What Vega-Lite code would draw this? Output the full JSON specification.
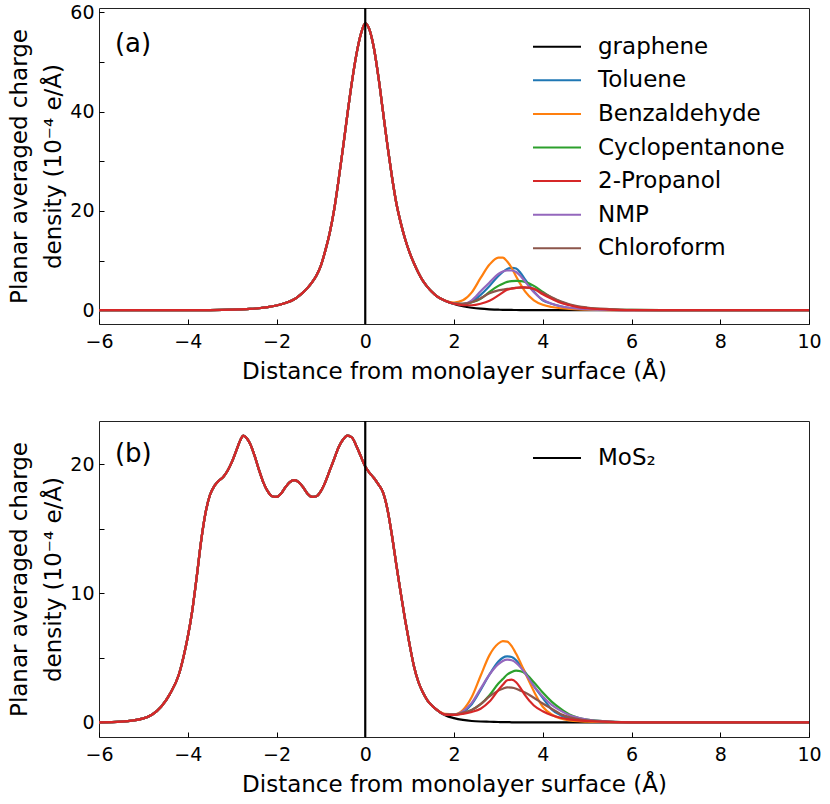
{
  "$schema": "https://vega.github.io/schema/vega-lite/v6.json",
  "background": "white",
  "padding": {"left": 8, "top": 2, "right": 5, "bottom": 5},
  "spacing": 35,
  "resolve": {"scale": {"color": "independent"}, "legend": {"color": "independent"}},
  "config": {
    "font": "DejaVu Sans",
    "view": {"stroke": "#222", "strokeWidth": 1},
    "axis": {
      "grid": false,
      "domain": false,
      "ticks": true,
      "tickSize": -5,
      "tickColor": "black",
      "tickWidth": 1,
      "labelPadding": 10,
      "labelFontSize": 19,
      "labelColor": "black",
      "labelFlush": false,
      "labelOverlap": false,
      "labelBound": false,
      "titleFontSize": 23,
      "titleFontWeight": "normal",
      "titleColor": "black",
      "titleLineHeight": 34,
      "titlePadding": 4
    },
    "axisX": {"labelPadding": 13, "titlePadding": 9},
    "legend": {
      "orient": "none",
      "title": null,
      "symbolType": "M-2,0H2",
      "symbolSize": 576,
      "symbolStrokeWidth": 2,
      "labelFontSize": 23,
      "labelColor": "black",
      "labelLimit": 400,
      "labelOffset": 28,
      "rowPadding": 8.6
    }
  },
  "vconcat": [
    {
      "width": 710,
      "height": 316,
      "data": {
        "values": [
          {"x": -6, "graphene": 0, "Toluene": 0, "Benzaldehyde": 0, "Cyclopentanone": 0, "2-Propanol": 0, "NMP": 0, "Chloroform": 0},
          {"x": -5, "graphene": 0, "Toluene": 0, "Benzaldehyde": 0, "Cyclopentanone": 0, "2-Propanol": 0, "NMP": 0, "Chloroform": 0},
          {"x": -4.5, "graphene": 0, "Toluene": 0, "Benzaldehyde": 0, "Cyclopentanone": 0, "2-Propanol": 0, "NMP": 0, "Chloroform": 0},
          {"x": -4, "graphene": 0.01, "Toluene": 0.01, "Benzaldehyde": 0.01, "Cyclopentanone": 0.01, "2-Propanol": 0.01, "NMP": 0.01, "Chloroform": 0.01},
          {"x": -3.5, "graphene": 0.03, "Toluene": 0.03, "Benzaldehyde": 0.03, "Cyclopentanone": 0.03, "2-Propanol": 0.03, "NMP": 0.03, "Chloroform": 0.03},
          {"x": -3, "graphene": 0.1, "Toluene": 0.1, "Benzaldehyde": 0.1, "Cyclopentanone": 0.1, "2-Propanol": 0.1, "NMP": 0.1, "Chloroform": 0.1},
          {"x": -2.8, "graphene": 0.16, "Toluene": 0.16, "Benzaldehyde": 0.16, "Cyclopentanone": 0.16, "2-Propanol": 0.16, "NMP": 0.16, "Chloroform": 0.16},
          {"x": -2.6, "graphene": 0.25, "Toluene": 0.25, "Benzaldehyde": 0.25, "Cyclopentanone": 0.25, "2-Propanol": 0.25, "NMP": 0.25, "Chloroform": 0.25},
          {"x": -2.4, "graphene": 0.4, "Toluene": 0.4, "Benzaldehyde": 0.4, "Cyclopentanone": 0.4, "2-Propanol": 0.4, "NMP": 0.4, "Chloroform": 0.4},
          {"x": -2.2, "graphene": 0.62, "Toluene": 0.62, "Benzaldehyde": 0.62, "Cyclopentanone": 0.62, "2-Propanol": 0.62, "NMP": 0.62, "Chloroform": 0.62},
          {"x": -2, "graphene": 0.95, "Toluene": 0.95, "Benzaldehyde": 0.95, "Cyclopentanone": 0.95, "2-Propanol": 0.95, "NMP": 0.95, "Chloroform": 0.95},
          {"x": -1.8, "graphene": 1.45, "Toluene": 1.45, "Benzaldehyde": 1.45, "Cyclopentanone": 1.45, "2-Propanol": 1.45, "NMP": 1.45, "Chloroform": 1.45},
          {"x": -1.6, "graphene": 2.2, "Toluene": 2.2, "Benzaldehyde": 2.2, "Cyclopentanone": 2.2, "2-Propanol": 2.2, "NMP": 2.2, "Chloroform": 2.2},
          {"x": -1.5, "graphene": 2.85, "Toluene": 2.85, "Benzaldehyde": 2.85, "Cyclopentanone": 2.85, "2-Propanol": 2.85, "NMP": 2.85, "Chloroform": 2.85},
          {"x": -1.4, "graphene": 3.6, "Toluene": 3.6, "Benzaldehyde": 3.6, "Cyclopentanone": 3.6, "2-Propanol": 3.6, "NMP": 3.6, "Chloroform": 3.6},
          {"x": -1.3, "graphene": 4.5, "Toluene": 4.5, "Benzaldehyde": 4.5, "Cyclopentanone": 4.5, "2-Propanol": 4.5, "NMP": 4.5, "Chloroform": 4.5},
          {"x": -1.2, "graphene": 5.6, "Toluene": 5.6, "Benzaldehyde": 5.6, "Cyclopentanone": 5.6, "2-Propanol": 5.6, "NMP": 5.6, "Chloroform": 5.6},
          {"x": -1.1, "graphene": 7.0, "Toluene": 7.0, "Benzaldehyde": 7.0, "Cyclopentanone": 7.0, "2-Propanol": 7.0, "NMP": 7.0, "Chloroform": 7.0},
          {"x": -1.0, "graphene": 9.0, "Toluene": 9.0, "Benzaldehyde": 9.0, "Cyclopentanone": 9.0, "2-Propanol": 9.0, "NMP": 9.0, "Chloroform": 9.0},
          {"x": -0.9, "graphene": 12.0, "Toluene": 12.0, "Benzaldehyde": 12.0, "Cyclopentanone": 12.0, "2-Propanol": 12.0, "NMP": 12.0, "Chloroform": 12.0},
          {"x": -0.8, "graphene": 15.6, "Toluene": 15.6, "Benzaldehyde": 15.6, "Cyclopentanone": 15.6, "2-Propanol": 15.6, "NMP": 15.6, "Chloroform": 15.6},
          {"x": -0.7, "graphene": 20.3, "Toluene": 20.3, "Benzaldehyde": 20.3, "Cyclopentanone": 20.3, "2-Propanol": 20.3, "NMP": 20.3, "Chloroform": 20.3},
          {"x": -0.6, "graphene": 26.3, "Toluene": 26.3, "Benzaldehyde": 26.3, "Cyclopentanone": 26.3, "2-Propanol": 26.3, "NMP": 26.3, "Chloroform": 26.3},
          {"x": -0.5, "graphene": 32.8, "Toluene": 32.8, "Benzaldehyde": 32.8, "Cyclopentanone": 32.8, "2-Propanol": 32.8, "NMP": 32.8, "Chloroform": 32.8},
          {"x": -0.4, "graphene": 39.6, "Toluene": 39.6, "Benzaldehyde": 39.6, "Cyclopentanone": 39.6, "2-Propanol": 39.6, "NMP": 39.6, "Chloroform": 39.6},
          {"x": -0.3, "graphene": 46.0, "Toluene": 46.0, "Benzaldehyde": 46.0, "Cyclopentanone": 46.0, "2-Propanol": 46.0, "NMP": 46.0, "Chloroform": 46.0},
          {"x": -0.2, "graphene": 51.5, "Toluene": 51.5, "Benzaldehyde": 51.5, "Cyclopentanone": 51.5, "2-Propanol": 51.5, "NMP": 51.5, "Chloroform": 51.5},
          {"x": -0.1, "graphene": 55.6, "Toluene": 55.6, "Benzaldehyde": 55.6, "Cyclopentanone": 55.6, "2-Propanol": 55.6, "NMP": 55.6, "Chloroform": 55.6},
          {"x": 0, "graphene": 57.8, "Toluene": 57.8, "Benzaldehyde": 57.8, "Cyclopentanone": 57.8, "2-Propanol": 57.8, "NMP": 57.8, "Chloroform": 57.8},
          {"x": 0.1, "graphene": 56.4, "Toluene": 56.4, "Benzaldehyde": 56.4, "Cyclopentanone": 56.4, "2-Propanol": 56.4, "NMP": 56.4, "Chloroform": 56.4},
          {"x": 0.2, "graphene": 52.6, "Toluene": 52.6, "Benzaldehyde": 52.6, "Cyclopentanone": 52.6, "2-Propanol": 52.6, "NMP": 52.6, "Chloroform": 52.6},
          {"x": 0.3, "graphene": 46.8, "Toluene": 46.8, "Benzaldehyde": 46.8, "Cyclopentanone": 46.8, "2-Propanol": 46.8, "NMP": 46.8, "Chloroform": 46.8},
          {"x": 0.4, "graphene": 40.0, "Toluene": 40.0, "Benzaldehyde": 40.0, "Cyclopentanone": 40.0, "2-Propanol": 40.0, "NMP": 40.0, "Chloroform": 40.0},
          {"x": 0.5, "graphene": 33.2, "Toluene": 33.2, "Benzaldehyde": 33.2, "Cyclopentanone": 33.2, "2-Propanol": 33.2, "NMP": 33.2, "Chloroform": 33.2},
          {"x": 0.6, "graphene": 27.0, "Toluene": 27.0, "Benzaldehyde": 27.0, "Cyclopentanone": 27.0, "2-Propanol": 27.0, "NMP": 27.0, "Chloroform": 27.0},
          {"x": 0.7, "graphene": 21.6, "Toluene": 21.6, "Benzaldehyde": 21.6, "Cyclopentanone": 21.6, "2-Propanol": 21.6, "NMP": 21.6, "Chloroform": 21.6},
          {"x": 0.8, "graphene": 17.6, "Toluene": 17.6, "Benzaldehyde": 17.6, "Cyclopentanone": 17.6, "2-Propanol": 17.6, "NMP": 17.6, "Chloroform": 17.6},
          {"x": 0.9, "graphene": 14.3, "Toluene": 14.3, "Benzaldehyde": 14.3, "Cyclopentanone": 14.3, "2-Propanol": 14.3, "NMP": 14.3, "Chloroform": 14.3},
          {"x": 1.0, "graphene": 11.6, "Toluene": 11.6, "Benzaldehyde": 11.6, "Cyclopentanone": 11.6, "2-Propanol": 11.6, "NMP": 11.6, "Chloroform": 11.6},
          {"x": 1.1, "graphene": 9.4, "Toluene": 9.4, "Benzaldehyde": 9.4, "Cyclopentanone": 9.4, "2-Propanol": 9.4, "NMP": 9.4, "Chloroform": 9.4},
          {"x": 1.2, "graphene": 7.5, "Toluene": 7.5, "Benzaldehyde": 7.5, "Cyclopentanone": 7.5, "2-Propanol": 7.5, "NMP": 7.5, "Chloroform": 7.5},
          {"x": 1.3, "graphene": 5.9, "Toluene": 5.9, "Benzaldehyde": 5.9, "Cyclopentanone": 5.9, "2-Propanol": 5.9, "NMP": 5.9, "Chloroform": 5.9},
          {"x": 1.4, "graphene": 4.7, "Toluene": 4.7, "Benzaldehyde": 4.7, "Cyclopentanone": 4.7, "2-Propanol": 4.7, "NMP": 4.7, "Chloroform": 4.7},
          {"x": 1.5, "graphene": 3.7, "Toluene": 3.7, "Benzaldehyde": 3.7, "Cyclopentanone": 3.7, "2-Propanol": 3.7, "NMP": 3.7, "Chloroform": 3.7},
          {"x": 1.6, "graphene": 2.9, "Toluene": 2.9, "Benzaldehyde": 2.9, "Cyclopentanone": 2.9, "2-Propanol": 2.9, "NMP": 2.9, "Chloroform": 2.9},
          {"x": 1.8, "graphene": 1.9, "Toluene": 1.9, "Benzaldehyde": 1.95, "Cyclopentanone": 1.9, "2-Propanol": 1.9, "NMP": 1.9, "Chloroform": 1.9},
          {"x": 2.0, "graphene": 1.25, "Toluene": 1.3, "Benzaldehyde": 1.55, "Cyclopentanone": 1.35, "2-Propanol": 1.3, "NMP": 1.35, "Chloroform": 1.35},
          {"x": 2.2, "graphene": 0.8, "Toluene": 1.2, "Benzaldehyde": 2.0, "Cyclopentanone": 1.3, "2-Propanol": 1.0, "NMP": 1.3, "Chloroform": 1.3},
          {"x": 2.4, "graphene": 0.5, "Toluene": 1.7, "Benzaldehyde": 3.6, "Cyclopentanone": 1.6, "2-Propanol": 1.0, "NMP": 2.0, "Chloroform": 1.6},
          {"x": 2.6, "graphene": 0.3, "Toluene": 3.1, "Benzaldehyde": 6.5, "Cyclopentanone": 2.3, "2-Propanol": 1.3, "NMP": 3.8, "Chloroform": 2.4},
          {"x": 2.8, "graphene": 0.18, "Toluene": 4.9, "Benzaldehyde": 9.2, "Cyclopentanone": 3.7, "2-Propanol": 1.9, "NMP": 5.6, "Chloroform": 3.4},
          {"x": 3.0, "graphene": 0.1, "Toluene": 6.9, "Benzaldehyde": 10.6, "Cyclopentanone": 4.9, "2-Propanol": 3.0, "NMP": 7.3, "Chloroform": 4.0},
          {"x": 3.1, "graphene": 0.08, "Toluene": 7.7, "Benzaldehyde": 10.6, "Cyclopentanone": 5.35, "2-Propanol": 3.6, "NMP": 7.8, "Chloroform": 4.15},
          {"x": 3.2, "graphene": 0.06, "Toluene": 8.3, "Benzaldehyde": 9.8, "Cyclopentanone": 5.7, "2-Propanol": 4.1, "NMP": 8.0, "Chloroform": 4.3},
          {"x": 3.3, "graphene": 0.05, "Toluene": 8.55, "Benzaldehyde": 8.5, "Cyclopentanone": 5.85, "2-Propanol": 4.35, "NMP": 8.0, "Chloroform": 4.4},
          {"x": 3.4, "graphene": 0.04, "Toluene": 8.4, "Benzaldehyde": 6.8, "Cyclopentanone": 5.9, "2-Propanol": 4.5, "NMP": 7.7, "Chloroform": 4.5},
          {"x": 3.5, "graphene": 0.03, "Toluene": 7.5, "Benzaldehyde": 5.2, "Cyclopentanone": 5.85, "2-Propanol": 4.6, "NMP": 6.9, "Chloroform": 4.55},
          {"x": 3.6, "graphene": 0.02, "Toluene": 6.2, "Benzaldehyde": 3.8, "Cyclopentanone": 5.7, "2-Propanol": 4.6, "NMP": 5.8, "Chloroform": 4.55},
          {"x": 3.8, "graphene": 0.01, "Toluene": 3.8, "Benzaldehyde": 2.0, "Cyclopentanone": 4.9, "2-Propanol": 4.3, "NMP": 3.6, "Chloroform": 4.3},
          {"x": 4.0, "graphene": 0, "Toluene": 2.0, "Benzaldehyde": 1.1, "Cyclopentanone": 3.7, "2-Propanol": 3.2, "NMP": 2.1, "Chloroform": 3.5},
          {"x": 4.2, "graphene": 0, "Toluene": 1.3, "Benzaldehyde": 0.65, "Cyclopentanone": 2.5, "2-Propanol": 2.3, "NMP": 1.3, "Chloroform": 2.6},
          {"x": 4.4, "graphene": 0, "Toluene": 0.8, "Benzaldehyde": 0.4, "Cyclopentanone": 1.7, "2-Propanol": 1.5, "NMP": 0.8, "Chloroform": 1.8},
          {"x": 4.6, "graphene": 0, "Toluene": 0.45, "Benzaldehyde": 0.25, "Cyclopentanone": 1.1, "2-Propanol": 1.0, "NMP": 0.5, "Chloroform": 1.2},
          {"x": 4.8, "graphene": 0, "Toluene": 0.28, "Benzaldehyde": 0.15, "Cyclopentanone": 0.7, "2-Propanol": 0.6, "NMP": 0.3, "Chloroform": 0.8},
          {"x": 5.0, "graphene": 0, "Toluene": 0.18, "Benzaldehyde": 0.1, "Cyclopentanone": 0.45, "2-Propanol": 0.4, "NMP": 0.2, "Chloroform": 0.55},
          {"x": 5.5, "graphene": 0, "Toluene": 0.05, "Benzaldehyde": 0.03, "Cyclopentanone": 0.17, "2-Propanol": 0.12, "NMP": 0.05, "Chloroform": 0.22},
          {"x": 6.0, "graphene": 0, "Toluene": 0, "Benzaldehyde": 0, "Cyclopentanone": 0.05, "2-Propanol": 0.03, "NMP": 0, "Chloroform": 0.05},
          {"x": 7, "graphene": 0, "Toluene": 0, "Benzaldehyde": 0, "Cyclopentanone": 0, "2-Propanol": 0, "NMP": 0, "Chloroform": 0},
          {"x": 8, "graphene": 0, "Toluene": 0, "Benzaldehyde": 0, "Cyclopentanone": 0, "2-Propanol": 0, "NMP": 0, "Chloroform": 0},
          {"x": 10, "graphene": 0, "Toluene": 0, "Benzaldehyde": 0, "Cyclopentanone": 0, "2-Propanol": 0, "NMP": 0, "Chloroform": 0}
        ]
      },
      "layer": [
        {
          "transform": [
            {"fold": ["graphene", "Toluene", "Benzaldehyde", "Cyclopentanone", "NMP", "Chloroform", "2-Propanol"], "as": ["series", "density"]}
          ],
          "mark": {"type": "line", "interpolate": "monotone", "strokeWidth": 2.2},
          "encoding": {
            "x": {
              "field": "x",
              "type": "quantitative",
              "scale": {"domain": [-6, 10], "nice": false, "zero": false},
              "axis": {"values": [-6, -4, -2, 0, 2, 4, 6, 8, 10], "title": "Distance from monolayer surface (Å)"}
            },
            "y": {
              "field": "density",
              "type": "quantitative",
              "scale": {"domain": [-2.78, 60.9], "nice": false, "zero": false},
              "axis": {
                "values": [0, 10, 20, 30, 40, 50, 60],
                "labelExpr": "datum.value % 20 === 0 ? datum.label : ''",
                "title": ["Planar averaged charge", "density (10⁻⁴ e/Å)"]
              }
            },
            "color": {
              "field": "series",
              "type": "nominal",
              "scale": {
                "domain": ["graphene", "Toluene", "Benzaldehyde", "Cyclopentanone", "2-Propanol", "NMP", "Chloroform"],
                "range": ["#000000", "#1f77b4", "#ff7f0e", "#2ca02c", "#d62728", "#9467bd", "#8c564b"]
              },
              "legend": {"legendX": 445, "legendY": 25.7}
            }
          }
        },
        {
          "data": {"values": [{"x": 0}]},
          "mark": {"type": "rule", "color": "black", "strokeWidth": 2.2},
          "encoding": {"x": {"field": "x", "type": "quantitative"}}
        },
        {
          "data": {"values": [{"label": "(a)"}]},
          "mark": {"type": "text", "align": "left", "baseline": "middle", "fontSize": 26, "color": "black"},
          "encoding": {
            "x": {"datum": -5.64},
            "y": {"datum": 53.6},
            "text": {"field": "label"}
          }
        }
      ]
    },
    {
      "width": 710,
      "height": 316,
      "data": {
        "values": [
          {"x": -6, "MoS₂": 0, "Toluene": 0, "Benzaldehyde": 0, "Cyclopentanone": 0, "2-Propanol": 0, "NMP": 0, "Chloroform": 0},
          {"x": -5.5, "MoS₂": 0.05, "Toluene": 0.05, "Benzaldehyde": 0.05, "Cyclopentanone": 0.05, "2-Propanol": 0.05, "NMP": 0.05, "Chloroform": 0.05},
          {"x": -5.0, "MoS₂": 0.3, "Toluene": 0.3, "Benzaldehyde": 0.3, "Cyclopentanone": 0.3, "2-Propanol": 0.3, "NMP": 0.3, "Chloroform": 0.3},
          {"x": -4.8, "MoS₂": 0.6, "Toluene": 0.6, "Benzaldehyde": 0.6, "Cyclopentanone": 0.6, "2-Propanol": 0.6, "NMP": 0.6, "Chloroform": 0.6},
          {"x": -4.6, "MoS₂": 1.2, "Toluene": 1.2, "Benzaldehyde": 1.2, "Cyclopentanone": 1.2, "2-Propanol": 1.2, "NMP": 1.2, "Chloroform": 1.2},
          {"x": -4.4, "MoS₂": 2.2, "Toluene": 2.2, "Benzaldehyde": 2.2, "Cyclopentanone": 2.2, "2-Propanol": 2.2, "NMP": 2.2, "Chloroform": 2.2},
          {"x": -4.2, "MoS₂": 3.7, "Toluene": 3.7, "Benzaldehyde": 3.7, "Cyclopentanone": 3.7, "2-Propanol": 3.7, "NMP": 3.7, "Chloroform": 3.7},
          {"x": -4.1, "MoS₂": 5.0, "Toluene": 5.0, "Benzaldehyde": 5.0, "Cyclopentanone": 5.0, "2-Propanol": 5.0, "NMP": 5.0, "Chloroform": 5.0},
          {"x": -4.0, "MoS₂": 6.6, "Toluene": 6.6, "Benzaldehyde": 6.6, "Cyclopentanone": 6.6, "2-Propanol": 6.6, "NMP": 6.6, "Chloroform": 6.6},
          {"x": -3.9, "MoS₂": 8.6, "Toluene": 8.6, "Benzaldehyde": 8.6, "Cyclopentanone": 8.6, "2-Propanol": 8.6, "NMP": 8.6, "Chloroform": 8.6},
          {"x": -3.8, "MoS₂": 11.2, "Toluene": 11.2, "Benzaldehyde": 11.2, "Cyclopentanone": 11.2, "2-Propanol": 11.2, "NMP": 11.2, "Chloroform": 11.2},
          {"x": -3.7, "MoS₂": 14.0, "Toluene": 14.0, "Benzaldehyde": 14.0, "Cyclopentanone": 14.0, "2-Propanol": 14.0, "NMP": 14.0, "Chloroform": 14.0},
          {"x": -3.6, "MoS₂": 16.2, "Toluene": 16.2, "Benzaldehyde": 16.2, "Cyclopentanone": 16.2, "2-Propanol": 16.2, "NMP": 16.2, "Chloroform": 16.2},
          {"x": -3.5, "MoS₂": 17.6, "Toluene": 17.6, "Benzaldehyde": 17.6, "Cyclopentanone": 17.6, "2-Propanol": 17.6, "NMP": 17.6, "Chloroform": 17.6},
          {"x": -3.4, "MoS₂": 18.3, "Toluene": 18.3, "Benzaldehyde": 18.3, "Cyclopentanone": 18.3, "2-Propanol": 18.3, "NMP": 18.3, "Chloroform": 18.3},
          {"x": -3.3, "MoS₂": 18.7, "Toluene": 18.7, "Benzaldehyde": 18.7, "Cyclopentanone": 18.7, "2-Propanol": 18.7, "NMP": 18.7, "Chloroform": 18.7},
          {"x": -3.2, "MoS₂": 19.0, "Toluene": 19.0, "Benzaldehyde": 19.0, "Cyclopentanone": 19.0, "2-Propanol": 19.0, "NMP": 19.0, "Chloroform": 19.0},
          {"x": -3.1, "MoS₂": 19.5, "Toluene": 19.5, "Benzaldehyde": 19.5, "Cyclopentanone": 19.5, "2-Propanol": 19.5, "NMP": 19.5, "Chloroform": 19.5},
          {"x": -3.0, "MoS₂": 20.2, "Toluene": 20.2, "Benzaldehyde": 20.2, "Cyclopentanone": 20.2, "2-Propanol": 20.2, "NMP": 20.2, "Chloroform": 20.2},
          {"x": -2.9, "MoS₂": 21.1, "Toluene": 21.1, "Benzaldehyde": 21.1, "Cyclopentanone": 21.1, "2-Propanol": 21.1, "NMP": 21.1, "Chloroform": 21.1},
          {"x": -2.8, "MoS₂": 21.95, "Toluene": 21.95, "Benzaldehyde": 21.95, "Cyclopentanone": 21.95, "2-Propanol": 21.95, "NMP": 21.95, "Chloroform": 21.95},
          {"x": -2.75, "MoS₂": 22.2, "Toluene": 22.2, "Benzaldehyde": 22.2, "Cyclopentanone": 22.2, "2-Propanol": 22.2, "NMP": 22.2, "Chloroform": 22.2},
          {"x": -2.7, "MoS₂": 22.1, "Toluene": 22.1, "Benzaldehyde": 22.1, "Cyclopentanone": 22.1, "2-Propanol": 22.1, "NMP": 22.1, "Chloroform": 22.1},
          {"x": -2.6, "MoS₂": 21.6, "Toluene": 21.6, "Benzaldehyde": 21.6, "Cyclopentanone": 21.6, "2-Propanol": 21.6, "NMP": 21.6, "Chloroform": 21.6},
          {"x": -2.5, "MoS₂": 20.7, "Toluene": 20.7, "Benzaldehyde": 20.7, "Cyclopentanone": 20.7, "2-Propanol": 20.7, "NMP": 20.7, "Chloroform": 20.7},
          {"x": -2.4, "MoS₂": 19.6, "Toluene": 19.6, "Benzaldehyde": 19.6, "Cyclopentanone": 19.6, "2-Propanol": 19.6, "NMP": 19.6, "Chloroform": 19.6},
          {"x": -2.3, "MoS₂": 18.6, "Toluene": 18.6, "Benzaldehyde": 18.6, "Cyclopentanone": 18.6, "2-Propanol": 18.6, "NMP": 18.6, "Chloroform": 18.6},
          {"x": -2.2, "MoS₂": 17.9, "Toluene": 17.9, "Benzaldehyde": 17.9, "Cyclopentanone": 17.9, "2-Propanol": 17.9, "NMP": 17.9, "Chloroform": 17.9},
          {"x": -2.1, "MoS₂": 17.5, "Toluene": 17.5, "Benzaldehyde": 17.5, "Cyclopentanone": 17.5, "2-Propanol": 17.5, "NMP": 17.5, "Chloroform": 17.5},
          {"x": -2.0, "MoS₂": 17.45, "Toluene": 17.45, "Benzaldehyde": 17.45, "Cyclopentanone": 17.45, "2-Propanol": 17.45, "NMP": 17.45, "Chloroform": 17.45},
          {"x": -1.9, "MoS₂": 17.7, "Toluene": 17.7, "Benzaldehyde": 17.7, "Cyclopentanone": 17.7, "2-Propanol": 17.7, "NMP": 17.7, "Chloroform": 17.7},
          {"x": -1.8, "MoS₂": 18.2, "Toluene": 18.2, "Benzaldehyde": 18.2, "Cyclopentanone": 18.2, "2-Propanol": 18.2, "NMP": 18.2, "Chloroform": 18.2},
          {"x": -1.7, "MoS₂": 18.6, "Toluene": 18.6, "Benzaldehyde": 18.6, "Cyclopentanone": 18.6, "2-Propanol": 18.6, "NMP": 18.6, "Chloroform": 18.6},
          {"x": -1.6, "MoS₂": 18.75, "Toluene": 18.75, "Benzaldehyde": 18.75, "Cyclopentanone": 18.75, "2-Propanol": 18.75, "NMP": 18.75, "Chloroform": 18.75},
          {"x": -1.5, "MoS₂": 18.6, "Toluene": 18.6, "Benzaldehyde": 18.6, "Cyclopentanone": 18.6, "2-Propanol": 18.6, "NMP": 18.6, "Chloroform": 18.6},
          {"x": -1.4, "MoS₂": 18.2, "Toluene": 18.2, "Benzaldehyde": 18.2, "Cyclopentanone": 18.2, "2-Propanol": 18.2, "NMP": 18.2, "Chloroform": 18.2},
          {"x": -1.3, "MoS₂": 17.7, "Toluene": 17.7, "Benzaldehyde": 17.7, "Cyclopentanone": 17.7, "2-Propanol": 17.7, "NMP": 17.7, "Chloroform": 17.7},
          {"x": -1.2, "MoS₂": 17.45, "Toluene": 17.45, "Benzaldehyde": 17.45, "Cyclopentanone": 17.45, "2-Propanol": 17.45, "NMP": 17.45, "Chloroform": 17.45},
          {"x": -1.1, "MoS₂": 17.5, "Toluene": 17.5, "Benzaldehyde": 17.5, "Cyclopentanone": 17.5, "2-Propanol": 17.5, "NMP": 17.5, "Chloroform": 17.5},
          {"x": -1.0, "MoS₂": 17.9, "Toluene": 17.9, "Benzaldehyde": 17.9, "Cyclopentanone": 17.9, "2-Propanol": 17.9, "NMP": 17.9, "Chloroform": 17.9},
          {"x": -0.9, "MoS₂": 18.6, "Toluene": 18.6, "Benzaldehyde": 18.6, "Cyclopentanone": 18.6, "2-Propanol": 18.6, "NMP": 18.6, "Chloroform": 18.6},
          {"x": -0.8, "MoS₂": 19.5, "Toluene": 19.5, "Benzaldehyde": 19.5, "Cyclopentanone": 19.5, "2-Propanol": 19.5, "NMP": 19.5, "Chloroform": 19.5},
          {"x": -0.7, "MoS₂": 20.4, "Toluene": 20.4, "Benzaldehyde": 20.4, "Cyclopentanone": 20.4, "2-Propanol": 20.4, "NMP": 20.4, "Chloroform": 20.4},
          {"x": -0.6, "MoS₂": 21.3, "Toluene": 21.3, "Benzaldehyde": 21.3, "Cyclopentanone": 21.3, "2-Propanol": 21.3, "NMP": 21.3, "Chloroform": 21.3},
          {"x": -0.5, "MoS₂": 21.9, "Toluene": 21.9, "Benzaldehyde": 21.9, "Cyclopentanone": 21.9, "2-Propanol": 21.9, "NMP": 21.9, "Chloroform": 21.9},
          {"x": -0.4, "MoS₂": 22.2, "Toluene": 22.2, "Benzaldehyde": 22.2, "Cyclopentanone": 22.2, "2-Propanol": 22.2, "NMP": 22.2, "Chloroform": 22.2},
          {"x": -0.3, "MoS₂": 22.05, "Toluene": 22.05, "Benzaldehyde": 22.05, "Cyclopentanone": 22.05, "2-Propanol": 22.05, "NMP": 22.05, "Chloroform": 22.05},
          {"x": -0.2, "MoS₂": 21.4, "Toluene": 21.4, "Benzaldehyde": 21.4, "Cyclopentanone": 21.4, "2-Propanol": 21.4, "NMP": 21.4, "Chloroform": 21.4},
          {"x": -0.1, "MoS₂": 20.6, "Toluene": 20.6, "Benzaldehyde": 20.6, "Cyclopentanone": 20.6, "2-Propanol": 20.6, "NMP": 20.6, "Chloroform": 20.6},
          {"x": 0, "MoS₂": 19.8, "Toluene": 19.8, "Benzaldehyde": 19.8, "Cyclopentanone": 19.8, "2-Propanol": 19.8, "NMP": 19.8, "Chloroform": 19.8},
          {"x": 0.1, "MoS₂": 19.3, "Toluene": 19.3, "Benzaldehyde": 19.3, "Cyclopentanone": 19.3, "2-Propanol": 19.3, "NMP": 19.3, "Chloroform": 19.3},
          {"x": 0.2, "MoS₂": 18.9, "Toluene": 18.9, "Benzaldehyde": 18.9, "Cyclopentanone": 18.9, "2-Propanol": 18.9, "NMP": 18.9, "Chloroform": 18.9},
          {"x": 0.3, "MoS₂": 18.4, "Toluene": 18.4, "Benzaldehyde": 18.4, "Cyclopentanone": 18.4, "2-Propanol": 18.4, "NMP": 18.4, "Chloroform": 18.4},
          {"x": 0.4, "MoS₂": 17.8, "Toluene": 17.8, "Benzaldehyde": 17.8, "Cyclopentanone": 17.8, "2-Propanol": 17.8, "NMP": 17.8, "Chloroform": 17.8},
          {"x": 0.5, "MoS₂": 16.5, "Toluene": 16.5, "Benzaldehyde": 16.5, "Cyclopentanone": 16.5, "2-Propanol": 16.5, "NMP": 16.5, "Chloroform": 16.5},
          {"x": 0.6, "MoS₂": 14.5, "Toluene": 14.5, "Benzaldehyde": 14.5, "Cyclopentanone": 14.5, "2-Propanol": 14.5, "NMP": 14.5, "Chloroform": 14.5},
          {"x": 0.7, "MoS₂": 12.2, "Toluene": 12.2, "Benzaldehyde": 12.2, "Cyclopentanone": 12.2, "2-Propanol": 12.2, "NMP": 12.2, "Chloroform": 12.2},
          {"x": 0.8, "MoS₂": 10.0, "Toluene": 10.0, "Benzaldehyde": 10.0, "Cyclopentanone": 10.0, "2-Propanol": 10.0, "NMP": 10.0, "Chloroform": 10.0},
          {"x": 0.9, "MoS₂": 7.9, "Toluene": 7.9, "Benzaldehyde": 7.9, "Cyclopentanone": 7.9, "2-Propanol": 7.9, "NMP": 7.9, "Chloroform": 7.9},
          {"x": 1.0, "MoS₂": 6.0, "Toluene": 6.0, "Benzaldehyde": 6.0, "Cyclopentanone": 6.0, "2-Propanol": 6.0, "NMP": 6.0, "Chloroform": 6.0},
          {"x": 1.1, "MoS₂": 4.3, "Toluene": 4.3, "Benzaldehyde": 4.3, "Cyclopentanone": 4.3, "2-Propanol": 4.3, "NMP": 4.3, "Chloroform": 4.3},
          {"x": 1.2, "MoS₂": 3.1, "Toluene": 3.1, "Benzaldehyde": 3.1, "Cyclopentanone": 3.1, "2-Propanol": 3.1, "NMP": 3.1, "Chloroform": 3.1},
          {"x": 1.3, "MoS₂": 2.3, "Toluene": 2.3, "Benzaldehyde": 2.3, "Cyclopentanone": 2.3, "2-Propanol": 2.3, "NMP": 2.3, "Chloroform": 2.3},
          {"x": 1.4, "MoS₂": 1.7, "Toluene": 1.7, "Benzaldehyde": 1.7, "Cyclopentanone": 1.7, "2-Propanol": 1.7, "NMP": 1.7, "Chloroform": 1.7},
          {"x": 1.5, "MoS₂": 1.3, "Toluene": 1.3, "Benzaldehyde": 1.3, "Cyclopentanone": 1.3, "2-Propanol": 1.3, "NMP": 1.3, "Chloroform": 1.3},
          {"x": 1.6, "MoS₂": 1.0, "Toluene": 1.0, "Benzaldehyde": 1.0, "Cyclopentanone": 1.0, "2-Propanol": 1.0, "NMP": 1.0, "Chloroform": 1.0},
          {"x": 1.8, "MoS₂": 0.55, "Toluene": 0.6, "Benzaldehyde": 0.65, "Cyclopentanone": 0.6, "2-Propanol": 0.6, "NMP": 0.6, "Chloroform": 0.6},
          {"x": 2.0, "MoS₂": 0.32, "Toluene": 0.6, "Benzaldehyde": 0.62, "Cyclopentanone": 0.58, "2-Propanol": 0.57, "NMP": 0.6, "Chloroform": 0.6},
          {"x": 2.2, "MoS₂": 0.18, "Toluene": 0.8, "Benzaldehyde": 0.95, "Cyclopentanone": 0.7, "2-Propanol": 0.65, "NMP": 0.85, "Chloroform": 0.75},
          {"x": 2.4, "MoS₂": 0.1, "Toluene": 1.4, "Benzaldehyde": 1.95, "Cyclopentanone": 0.95, "2-Propanol": 0.8, "NMP": 1.5, "Chloroform": 0.95},
          {"x": 2.6, "MoS₂": 0.06, "Toluene": 2.5, "Benzaldehyde": 3.6, "Cyclopentanone": 1.4, "2-Propanol": 1.05, "NMP": 2.6, "Chloroform": 1.4},
          {"x": 2.8, "MoS₂": 0.04, "Toluene": 3.7, "Benzaldehyde": 5.2, "Cyclopentanone": 2.1, "2-Propanol": 1.6, "NMP": 3.7, "Chloroform": 2.0},
          {"x": 3.0, "MoS₂": 0.02, "Toluene": 4.7, "Benzaldehyde": 6.1, "Cyclopentanone": 3.0, "2-Propanol": 2.5, "NMP": 4.5, "Chloroform": 2.45},
          {"x": 3.1, "MoS₂": 0.01, "Toluene": 5.0, "Benzaldehyde": 6.28, "Cyclopentanone": 3.35, "2-Propanol": 2.9, "NMP": 4.75, "Chloroform": 2.6},
          {"x": 3.2, "MoS₂": 0.01, "Toluene": 5.1, "Benzaldehyde": 6.25, "Cyclopentanone": 3.7, "2-Propanol": 3.25, "NMP": 4.85, "Chloroform": 2.7},
          {"x": 3.3, "MoS₂": 0, "Toluene": 5.05, "Benzaldehyde": 5.9, "Cyclopentanone": 3.9, "2-Propanol": 3.3, "NMP": 4.8, "Chloroform": 2.68},
          {"x": 3.4, "MoS₂": 0, "Toluene": 4.8, "Benzaldehyde": 5.3, "Cyclopentanone": 4.0, "2-Propanol": 3.1, "NMP": 4.6, "Chloroform": 2.6},
          {"x": 3.5, "MoS₂": 0, "Toluene": 4.4, "Benzaldehyde": 4.6, "Cyclopentanone": 3.95, "2-Propanol": 2.65, "NMP": 4.25, "Chloroform": 2.45},
          {"x": 3.6, "MoS₂": 0, "Toluene": 3.9, "Benzaldehyde": 3.85, "Cyclopentanone": 3.8, "2-Propanol": 2.1, "NMP": 3.8, "Chloroform": 2.3},
          {"x": 3.8, "MoS₂": 0, "Toluene": 2.8, "Benzaldehyde": 2.4, "Cyclopentanone": 3.1, "2-Propanol": 1.3, "NMP": 2.8, "Chloroform": 1.9},
          {"x": 4.0, "MoS₂": 0, "Toluene": 1.9, "Benzaldehyde": 1.2, "Cyclopentanone": 2.3, "2-Propanol": 0.85, "NMP": 2.0, "Chloroform": 1.45},
          {"x": 4.2, "MoS₂": 0, "Toluene": 1.0, "Benzaldehyde": 0.6, "Cyclopentanone": 1.6, "2-Propanol": 0.55, "NMP": 1.35, "Chloroform": 1.05},
          {"x": 4.4, "MoS₂": 0, "Toluene": 0.55, "Benzaldehyde": 0.3, "Cyclopentanone": 1.05, "2-Propanol": 0.35, "NMP": 0.9, "Chloroform": 0.65},
          {"x": 4.6, "MoS₂": 0, "Toluene": 0.3, "Benzaldehyde": 0.15, "Cyclopentanone": 0.6, "2-Propanol": 0.22, "NMP": 0.55, "Chloroform": 0.4},
          {"x": 4.8, "MoS₂": 0, "Toluene": 0.18, "Benzaldehyde": 0.08, "Cyclopentanone": 0.35, "2-Propanol": 0.14, "NMP": 0.35, "Chloroform": 0.25},
          {"x": 5.0, "MoS₂": 0, "Toluene": 0.1, "Benzaldehyde": 0.05, "Cyclopentanone": 0.2, "2-Propanol": 0.1, "NMP": 0.2, "Chloroform": 0.15},
          {"x": 5.5, "MoS₂": 0, "Toluene": 0.03, "Benzaldehyde": 0.01, "Cyclopentanone": 0.06, "2-Propanol": 0.03, "NMP": 0.05, "Chloroform": 0.04},
          {"x": 6.0, "MoS₂": 0, "Toluene": 0, "Benzaldehyde": 0, "Cyclopentanone": 0, "2-Propanol": 0, "NMP": 0, "Chloroform": 0},
          {"x": 7, "MoS₂": 0, "Toluene": 0, "Benzaldehyde": 0, "Cyclopentanone": 0, "2-Propanol": 0, "NMP": 0, "Chloroform": 0},
          {"x": 8, "MoS₂": 0, "Toluene": 0, "Benzaldehyde": 0, "Cyclopentanone": 0, "2-Propanol": 0, "NMP": 0, "Chloroform": 0},
          {"x": 10, "MoS₂": 0, "Toluene": 0, "Benzaldehyde": 0, "Cyclopentanone": 0, "2-Propanol": 0, "NMP": 0, "Chloroform": 0}
        ]
      },
      "layer": [
        {
          "transform": [
            {"fold": ["MoS₂", "Toluene", "Benzaldehyde", "Cyclopentanone", "NMP", "Chloroform", "2-Propanol"], "as": ["series", "density"]}
          ],
          "mark": {"type": "line", "interpolate": "monotone", "strokeWidth": 2.2},
          "encoding": {
            "x": {
              "field": "x",
              "type": "quantitative",
              "scale": {"domain": [-6, 10], "nice": false, "zero": false},
              "axis": {"values": [-6, -4, -2, 0, 2, 4, 6, 8, 10], "title": "Distance from monolayer surface (Å)"}
            },
            "y": {
              "field": "density",
              "type": "quantitative",
              "scale": {"domain": [-1.14, 23.33], "nice": false, "zero": false},
              "axis": {
                "values": [0, 5, 10, 15, 20],
                "labelExpr": "datum.value % 10 === 0 ? datum.label : ''",
                "title": ["Planar averaged charge", "density (10⁻⁴ e/Å)"]
              }
            },
            "color": {
              "field": "series",
              "type": "nominal",
              "scale": {
                "domain": ["MoS₂", "Toluene", "Benzaldehyde", "Cyclopentanone", "2-Propanol", "NMP", "Chloroform"],
                "range": ["#000000", "#1f77b4", "#ff7f0e", "#2ca02c", "#d62728", "#9467bd", "#8c564b"]
              },
              "legend": {"values": ["MoS₂"], "legendX": 445, "legendY": 24}
            }
          }
        },
        {
          "data": {"values": [{"x": 0}]},
          "mark": {"type": "rule", "color": "black", "strokeWidth": 2.2},
          "encoding": {"x": {"field": "x", "type": "quantitative"}}
        },
        {
          "data": {"values": [{"label": "(b)"}]},
          "mark": {"type": "text", "align": "left", "baseline": "middle", "fontSize": 26, "color": "black"},
          "encoding": {
            "x": {"datum": -5.64},
            "y": {"datum": 20.8},
            "text": {"field": "label"}
          }
        }
      ]
    }
  ]
}
